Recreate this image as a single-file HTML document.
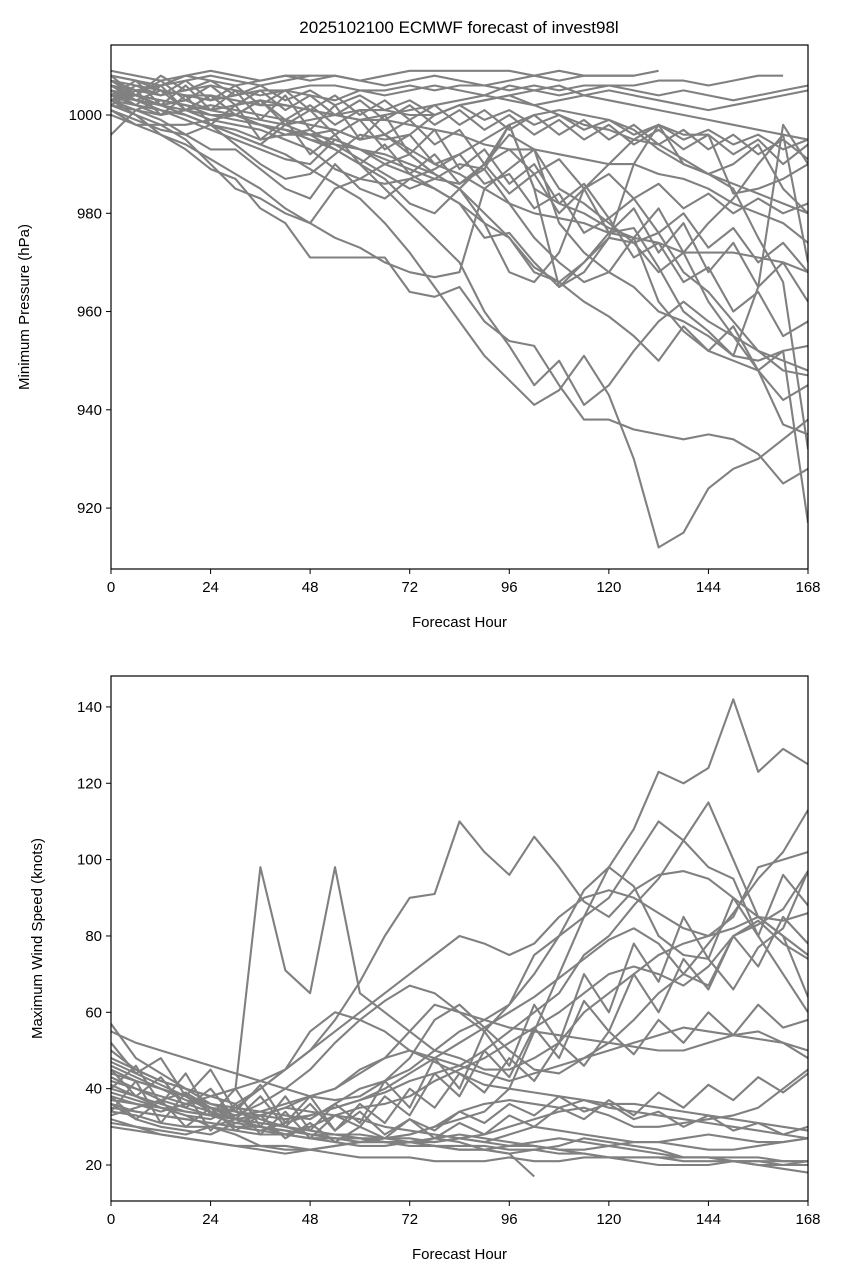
<!DOCTYPE html>
<html><head><meta charset="utf-8"><style>
html,body{margin:0;padding:0;background:#fff;}
svg{display:block;font-family:"Liberation Sans","DejaVu Sans",sans-serif;}
</style></head><body>
<svg id="fig" width="843" height="1279" viewBox="0 0 843 1279">
<rect width="843" height="1279" fill="#fff"/>
<text x="459" y="33" font-size="17" text-anchor="middle" fill="#000">2025102100 ECMWF forecast of invest98l</text>
<g id="top"></g>
<g id="bot"></g>
</svg>
<script>
const xTicks = [0,24,48,72,96,120,144,168];
const pTicks = [920,940,960,980,1000];
const wTicks = [20,40,60,80,100,120,140];
const stepHours = 6;
const pressureMembers = [
[1003,1000,996,993,989,987,981,978,971,971,971,971,964,963,965,958,954,953,945,938,938,936,935,934,935,934,931,925,928],
[1005,1003,1001,1000,998,996,994,992,989,986,983,978,972,965,958,951,946,941,944,951,943,930,912,915,924,928,930,934,938],
[1008,1007,1006,1007,1008,1007,1006,1007,1008,1008,1007,1008,1009,1009,1009,1009,1009,1008,1009,1008,1008,1008,1009],
[1006,1005,1004,1005,1006,1005,1004,1005,1006,1006,1005,1005,1006,1005,1006,1006,1005,1006,1005,1006,1006,1006,1007,1007,1006,1007,1008,1008],
[1004,1002,1000,1001,999,1000,998,997,996,997,995,996,993,990,988,985,982,980,979,978,976,975,974,972,972,972,971,970,968],
[1003,1001,999,996,993,993,989,985,983,990,985,983,987,985,982,975,976,970,965,968,975,990,998,990,988,990,994,985,980],
[1005,1003,1002,1001,1000,999,998,997,995,993,990,985,980,975,970,960,953,945,950,941,945,952,958,962,958,955,952,948,947],
[1002,1000,998,995,990,985,983,980,978,985,987,990,992,988,985,978,968,966,972,985,990,995,998,996,996,984,985,987,990],
[1004,1004,1003,1002,1001,1000,998,996,996,995,993,991,989,987,986,989,998,985,982,980,977,975,962,956,952,957,948,937,935],
[1000,998,996,994,991,988,985,981,978,975,973,970,968,967,968,985,989,993,978,972,968,965,960,958,955,951,950,952,953],
[1007,1006,1005,1004,1004,1003,1002,1002,1001,1000,999,999,998,997,996,994,993,993,992,991,990,990,988,987,985,982,980,978,974],
[1002,1001,1000,1001,1002,1001,1000,999,998,997,995,996,992,988,985,980,975,968,966,970,975,974,976,968,964,958,952,950,948],
[1003,1002,1001,999,997,995,993,991,990,995,993,992,990,988,985,990,998,985,965,970,976,977,969,960,956,951,965,998,990],
[1005,1004,1003,1002,1001,1000,999,998,999,1000,1001,1001,1000,1000,1002,1003,1004,1005,1006,1004,1003,1002,1001,1000,999,998,997,996,995],
[1001,999,997,996,998,997,995,996,997,994,991,988,985,987,990,989,982,975,970,966,968,975,981,972,962,955,948,942,945],
[1006,1004,1002,1000,998,994,990,987,988,992,996,995,996,1000,1002,1003,1004,1002,1000,998,997,995,994,991,988,985,975,966,932],
[996,1001,1003,1002,1000,1000,998,997,995,994,993,990,988,985,982,978,975,969,966,962,959,955,950,957,952,950,948,952,917],
[1008,1007,1005,1004,1003,1004,1005,1005,1004,1003,1005,1004,1005,1006,1005,1004,1006,1005,1004,1005,1006,1005,1004,1005,1004,1003,1004,1005,1006],
[1004,1003,1002,1000,998,996,994,998,996,993,990,987,982,980,985,990,996,993,985,982,978,974,968,972,978,983,990,996,970],
[1009,1008,1007,1008,1009,1008,1007,1008,1008],
[1007,1005,1006,1008,1007,1006,1007,1008,1007,1008,1007,1006,1007,1008,1007,1006,1007,1008,1007,1008,1008,1008],
[1003,1004,1002,1003,1001,1002,1003,1002,1001,1000,999,1000,1001,1002,1003,1004,1003,1002,1003,1004,1005,1004,1003,1002,1001,1002,1003,1004,1005],
[1001,998,998,998,999,998,997,995,993,989,987,986,987,989,992,995,998,1000,1001,1000,999,997,993,990,988,986,984,982,980],
[1006,1003,1005,1001,1004,1000,1003,999,1002,998,1001,996,999,994,997,990,993,988,991,985,988,983,986,981,984,980,983,980,982],
[1004,1007,1002,1006,1001,1005,999,1004,997,1002,995,1000,992,997,989,993,986,990,982,986,979,983,976,980,973,977,970,974,968],
[1002,1005,1000,1004,998,1002,995,999,992,996,990,994,988,992,986,990,984,988,980,985,976,981,972,978,968,974,965,970,962],
[1008,1004,1007,1003,1006,1002,1005,1001,1004,1000,1003,999,1002,998,1001,997,1000,996,999,995,998,994,997,993,996,992,995,990,994],
[1005,1002,1006,1001,1004,1000,1003,998,1001,996,999,993,996,990,992,986,988,981,984,976,979,971,974,966,969,960,964,955,958],
[1003,1006,1004,1007,1003,1006,1002,1005,1001,1004,1000,1003,999,1002,998,1001,997,1000,996,999,995,998,994,997,993,996,992,995,991],
[1007,1004,1008,1005,1007,1004,1006,1003,1005,1002,1004,1001,1003,1000,1002,999,1001,998,1000,997,999,996,998,995,997,994,996,993,995]
];
const windMembers = [
[45,42,40,38,36,35,34,33,32,36,40,42,45,50,55,58,62,70,80,92,98,108,123,120,124,142,123,129,125],
[40,38,35,33,32,35,40,45,50,58,68,80,90,91,110,102,96,106,98,89,85,92,96,97,95,90,85,80,75],
[50,45,42,40,38,40,98,71,65,98,65,60,55,50,48,45,45,48,52,60,65,70,75,78,80,82,85,84,86],
[57,48,44,40,36,34,32,30,28,27,27,26,26,25,25,25,24,24,23,23,22,22,22,21,21,21,20,20,21],
[35,34,33,32,31,30,30,29,28,28,27,27,26,26,27,26,25,26,27,26,25,24,23,22,22,22,22,21,21],
[42,40,38,36,34,32,33,35,38,40,44,48,55,62,60,58,56,55,54,53,52,51,50,50,52,54,55,52,48],
[38,36,34,36,38,40,42,45,50,55,60,65,70,75,80,78,75,78,85,90,92,90,86,82,80,85,98,100,102],
[33,35,37,39,35,32,30,28,30,33,35,36,38,42,45,48,52,56,60,65,70,72,70,67,72,80,83,87,97],
[30,29,28,27,26,25,25,24,24,23,22,22,22,21,21,21,22,21,21,22,22,21,20,20,20,21,20,19,18],
[48,45,42,40,38,36,40,45,55,60,58,55,50,48,46,44,42,44,46,48,50,52,54,56,55,54,53,52,50],
[36,32,30,29,28,31,33,35,34,33,32,30,29,28,27,26,28,30,29,28,27,26,26,27,28,27,26,26,27],
[44,42,40,38,35,33,36,40,45,52,58,63,67,65,60,55,62,75,80,85,90,100,110,105,98,95,80,70,60],
[32,30,28,27,26,25,24,23,24,25,26,27,28,30,32,34,40,55,70,85,98,93,80,75,74,66,77,82,97],
[41,38,36,34,33,32,31,30,29,28,28,27,27,26,27,28,30,32,34,35,33,30,30,31,32,33,35,40,45],
[55,52,50,48,46,44,42,40,38,37,38,42,48,58,62,56,50,45,44,48,52,58,65,70,78,86,95,102,113],
[34,33,31,30,30,29,28,28,27,27,26,26,25,25,24,24,25,25,24,24,25,26,26,25,24,24,25,26,27],
[46,43,40,37,35,34,33,32,33,35,37,40,44,48,52,56,60,64,69,74,79,82,78,70,67,80,84,78,74],
[39,37,35,33,30,28,25,25,24,25,26,27,28,30,34,36,37,36,35,37,35,34,33,32,31,30,29,28,27],
[31,30,29,28,30,32,30,28,27,26,25,25,26,27,26,24,23,24,25,27,26,25,24,22,22,21,21,20,20],
[47,44,41,38,34,30,29,31,33,35,37,39,42,44,46,50,55,60,65,75,80,88,95,105,115,100,85,80,64],
[37,36,35,34,33,33,34,36,38,40,45,48,50,47,44,41,40,39,38,37,36,36,35,34,33,32,31,30,29],
[43,40,37,35,33,31,30,29,28,28,27,26,26,25,24,24,23,17],
[36,34,33,32,31,30,29,28,27,27,26,26,26,27,28,27,26,25,24,23,22,22,22,22,22,21,21,21,21],
[40,46,36,44,33,40,30,38,29,36,31,42,35,48,40,55,46,62,52,70,60,78,68,85,74,90,80,96,88],
[34,42,31,39,29,36,28,34,27,33,30,38,33,44,38,50,43,56,48,63,55,70,60,74,66,80,72,85,78],
[52,44,48,38,45,34,41,31,38,29,36,31,40,35,44,39,48,42,52,46,55,49,58,52,60,54,62,56,58],
[38,32,37,30,35,29,33,27,31,26,30,27,32,29,34,31,36,33,38,34,36,32,34,30,33,29,31,28,30],
[45,38,43,35,40,32,38,30,36,29,34,28,32,27,31,28,33,30,35,32,37,33,39,35,41,37,43,39,44]
];
const NS='http://www.w3.org/2000/svg';
function el(tag, attrs, parent){const e=document.createElementNS(NS,tag);for(const k in attrs)e.setAttribute(k,attrs[k]);parent.appendChild(e);return e;}
function panel(g, top, bottom, yMin, yMax, yTicks, yLabel, members, prefix){
  const L=111,R=808;
  const xs=h=>L+(h/168)*(R-L);
  const ys=v=>bottom-(v-yMin)/(yMax-yMin)*(bottom-top);
  const clip=el('clipPath',{id:prefix+'clip'},g);
  el('rect',{x:L,y:top,width:R-L,height:bottom-top},clip);
  const lines=el('g',{'clip-path':'url(#'+prefix+'clip)'},g);
  
  
  members.forEach((m,i)=>{
    const d=m.map((v,j)=>(j?'L':'M')+xs(j*stepHours).toFixed(1)+','+ys(v).toFixed(1)).join('');
    const p=el('path',{d:d,fill:'none',stroke:'#808080','stroke-width':2.1,'stroke-linejoin':'round'},lines);
    
    
  });
  const frame=el('rect',{x:L,y:top,width:R-L,height:bottom-top,fill:'none',stroke:'#000','stroke-width':1.2},g);
  
  
  xTicks.forEach(t=>{
    el('line',{x1:xs(t),x2:xs(t),y1:bottom,y2:bottom+5,stroke:'#000'},g);
    const tx=el('text',{x:xs(t),y:bottom+23,'font-size':15,'text-anchor':'middle'},g);
    tx.textContent=t;
    
    
  });
  yTicks.forEach(t=>{
    el('line',{x1:L-5,x2:L,y1:ys(t),y2:ys(t),stroke:'#000'},g);
    const tx=el('text',{x:L-9,y:ys(t)+5,'font-size':15,'text-anchor':'end'},g);
    tx.textContent=t;
    
    
  });
  const xl=el('text',{x:(L+R)/2,y:bottom+58,'font-size':15,'text-anchor':'middle'},g);
  xl.textContent='Forecast Hour';
  
  
  const cy=(top+bottom)/2;
  const yl=el('text',{x:0,y:0,'font-size':15,'text-anchor':'middle',transform:'translate('+(prefix==='pressure'?29:42)+','+cy+') rotate(-90)'},g);
  yl.textContent=yLabel;
  
  
}
panel(document.getElementById('top'),45,569,907.6,1014.25,pTicks,'Minimum Pressure (hPa)',pressureMembers,'pressure');
panel(document.getElementById('bot'),676,1201,10.57,148.1,wTicks,'Maximum Wind Speed (knots)',windMembers,'wind');
</script>
</body></html>
